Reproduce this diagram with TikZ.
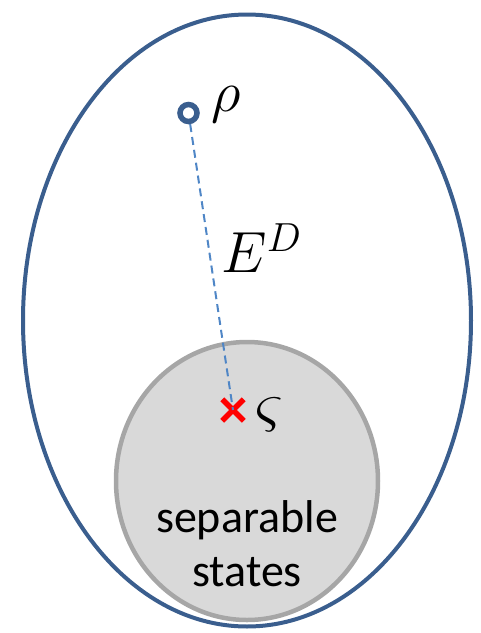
\RequirePackage{fix-cm}
\documentclass[tikz,border=0pt]{standalone}
\usepackage{fontspec}
\setmainfont{Carlito}
\usetikzlibrary{shapes.geometric,shapes.misc}
\definecolor{outerblue}{HTML}{3A5E8E}
\definecolor{dashblue}{HTML}{4F86C6}
\definecolor{sepgray}{HTML}{A6A6A6}
\definecolor{sepfill}{HTML}{D9D9D9}
\tikzset{
  mathlbl/.style={inner sep=0pt, font=\fontsize{58}{62}\selectfont},
  textlbl/.style={inner sep=0pt, align=center, font=\fontsize{46}{54}\selectfont},
}
\begin{document}
\begin{tikzpicture}[x=1pt,y=-1pt]
\useasboundingbox (0,0) rectangle (481,633);
\node[ellipse, draw=sepgray, fill=sepfill, line width=4.5pt, minimum width=262pt, minimum height=278pt, inner sep=0pt] (sep) at (247,481) {};
\node[ellipse, draw=outerblue, line width=4pt, minimum width=448pt, minimum height=612pt, inner sep=0pt] (outer) at (247,320.5) {};
\node[circle, draw=outerblue, line width=5.5pt, minimum size=17pt, inner sep=0pt] (rho) at (188.5,113) {};
\node[cross out, draw=red, line width=5.5pt, minimum size=16pt, inner sep=0pt] (sigma) at (233,410) {};
\draw[dashblue, line width=2pt, dash pattern=on 8pt off 5pt] (rho) -- (sigma.center);
\node[mathlbl] (rholbl) at (226,105) {$\rho$};
\node[mathlbl, font=\fontsize{64}{68}\selectfont] (sigmalbl) at (269,415) {$\varsigma$};
\node[mathlbl] (ed) at (261.5,248) {$E^D$};
\node[textlbl] (septext) at (247,544) {separable\\states};
\end{tikzpicture}
\end{document}
